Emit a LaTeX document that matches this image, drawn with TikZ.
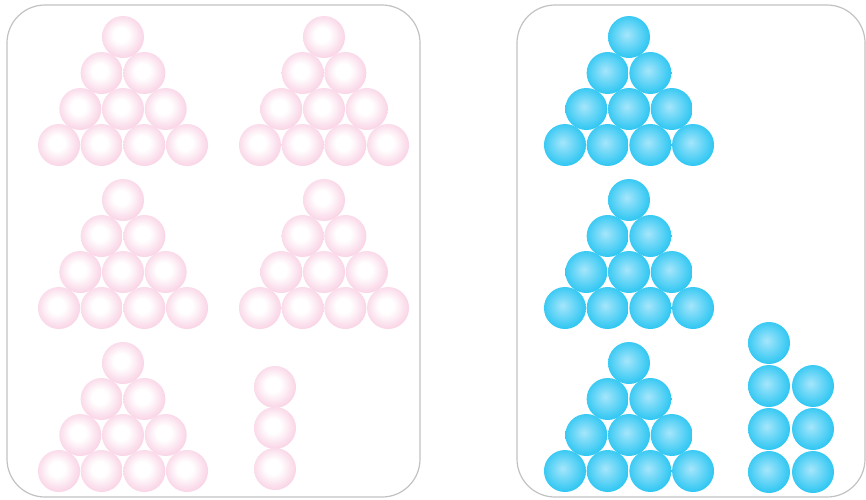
\documentclass[tikz,border=0pt]{standalone}
\usepackage{tikz}

\definecolor{pinkedge}{HTML}{F4B2D0}
\definecolor{pinkmid}{HTML}{F9D2E4}
\definecolor{blueedge}{HTML}{00BBED}
\definecolor{bluemid}{HTML}{38C9F3}
\definecolor{bluecore}{HTML}{A6E6FB}
\definecolor{framegray}{HTML}{C2C2C2}

\pgfdeclareradialshading{pinkshade}{\pgfpoint{-3bp}{3bp}}{%
  color(0bp)=(white); color(9bp)=(white); color(27bp)=(pinkmid);
  color(39bp)=(pinkedge); color(50bp)=(pinkedge)}
\pgfdeclareradialshading{blueshade}{\pgfpoint{-3bp}{3bp}}{%
  color(0bp)=(bluecore); color(24bp)=(bluemid);
  color(37bp)=(blueedge); color(50bp)=(blueedge)}

\begin{document}
\begin{tikzpicture}[
  x=1pt, y=-1pt,
  panel/.style={draw=framegray, line width=1.2pt, rounded corners=38pt},
  pinkball/.style={circle, minimum size=42pt, inner sep=0pt, shading=pinkshade},
  blueball/.style={circle, minimum size=42pt, inner sep=0pt, shading=blueshade},
]
  \useasboundingbox (0,0) rectangle (866,499);

  % panels
  \draw[panel] (7,5) rectangle (420,497);
  \draw[panel] (517,5) rectangle (865,497);

  % pink triangles of ten
  \foreach \t/\tx/\ty in {a/123/37, b/324/37, c/123/200, d/324/200, e/123/363} {
    \foreach \r in {0,...,3} {
      \foreach \c in {0,...,\r} {
        \node[pinkball] (p-\t-\r-\c) at ({\tx+(\c-\r/2)*42.7}, {\ty+\r*36}) {};
      }
    }
  }
  % pink ones
  \foreach \k/\y in {1/387, 2/428, 3/469}
    \node[pinkball] (p-one-\k) at (275,\y) {};

  % blue triangles of ten
  \foreach \t/\ty in {a/37, b/200, c/363} {
    \foreach \r in {0,...,3} {
      \foreach \c in {0,...,\r} {
        \node[blueball] (b-\t-\r-\c) at ({629+(\c-\r/2)*42.7}, {\ty+\r*36}) {};
      }
    }
  }
  % blue ones
  \foreach \k/\y in {1/343, 2/386, 3/429, 4/472}
    \node[blueball] (b-one-\k) at (769,\y) {};
  \foreach \k/\y in {1/386, 2/429, 3/472}
    \node[blueball] (b-two-\k) at (813,\y) {};
\end{tikzpicture}
\end{document}
